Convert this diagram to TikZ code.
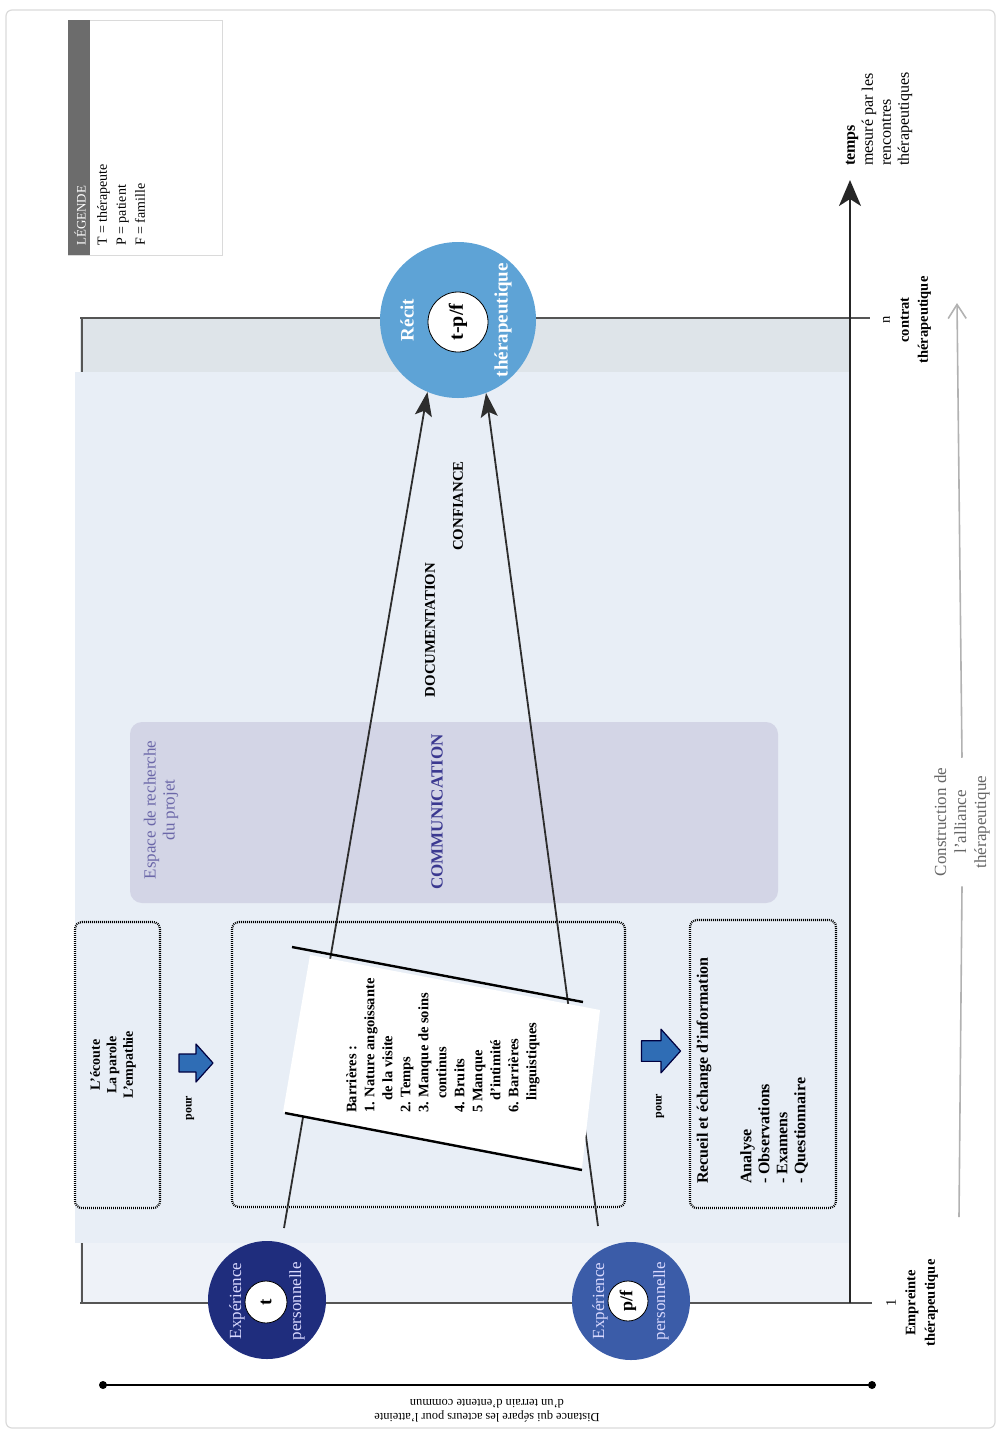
\documentclass[tikz,border=0pt]{standalone}
\usepackage{fontspec}
\setmainfont{Liberation Serif}
\usetikzlibrary{arrows.meta}

\definecolor{mainbg}{HTML}{E8EEF6}
\definecolor{bandtop}{HTML}{DEE4E9}
\definecolor{bandbot}{HTML}{EEF2F8}
\definecolor{purplebox}{HTML}{D3D5E6}
\definecolor{purpletxt}{HTML}{3B3990}
\definecolor{purplesoft}{HTML}{6B67A8}
\definecolor{recitblue}{HTML}{5EA3D6}
\definecolor{navy}{HTML}{1F2D7D}
\definecolor{midblue}{HTML}{3B5CA8}
\definecolor{arrowblue}{HTML}{2F6DB5}
\definecolor{axisgray}{HTML}{555555}
\definecolor{framegray}{HTML}{DADADA}

\tikzset{
  txt/.style={rotate=90, inner sep=0pt, align=center,
    font=\fontsize{14.5}{18}\selectfont\bfseries},
  txtreg/.style={rotate=90, inner sep=0pt, align=center,
    font=\fontsize{14.5}{18}\selectfont},
  dotbox/.style={draw=black, line width=2.2pt, dash pattern=on 0.9pt off 1.1pt,
    rounded corners=7pt},
  linkarrow/.style={draw=gray!35!black, line width=1.8pt,
    -{Stealth[length=24pt, width=17pt, inset=5pt]}},
  bigcircle/.style={circle, inner sep=0pt, minimum size=#1},
  coretag/.style={circle, draw=black, line width=0.8pt, fill=white, inner sep=0pt,
    minimum size=#1},
  blockarrow/.pic={
    \filldraw[fill=arrowblue, draw=black!75!blue, line width=1.2pt, line join=round]
      (-17,-9) -- (0,-9) -- (0,-19) -- (17,0) -- (0,19) -- (0,9) -- (-17,9) -- cycle;
  }
}

\begin{document}
\begin{tikzpicture}[x=1pt,y=-1pt]
\useasboundingbox (0,0) rectangle (1000,1433);

% outer frame
\draw[framegray, line width=1.2pt, rounded corners=6pt] (6,10) rectangle (995,1428);

% legend
\draw[framegray, line width=0.8pt] (68,20) rectangle (222,255);
\fill[gray!85!black] (68,20) rectangle (90,255);
\node[rotate=90, anchor=west, inner sep=0pt, text=white,
      font=\fontsize{13}{15}\selectfont] (legtitle) at (80,246) {LÉGENDE};
\node[rotate=90, anchor=west, inner sep=0pt, align=left,
      font=\fontsize{14}{19}\selectfont] (legtext) at (121,246)
      {T = thérapeute\\P = patient\\F = famille};

% background bands of the time space
\fill[bandtop] (80,318) rectangle (850,372);
\fill[mainbg] (75,372) rectangle (850,1243);
\fill[bandbot] (80,1243) rectangle (850,1303);
\draw[axisgray, line width=1.2pt] (82,318) -- (82,372);
\draw[axisgray, line width=1.2pt] (82,1243) -- (82,1303);

% milestones n and 1
\coordinate (nL) at (80,318);
\coordinate (nR) at (870,318);
\coordinate (oneL) at (80,1303);
\coordinate (oneR) at (872,1303);
\draw[axisgray, line width=1.4pt] (nL) -- (nR);
\draw[axisgray, line width=1.4pt] (oneL) -- (oneR);
\node[align=center, rotate=90, inner sep=0pt,
      font=\fontsize{14.5}{19}\selectfont] (nlabel) at (907,320)
      {n\\\textbf{contrat}\\\textbf{thérapeutique}};
\node[align=center, rotate=90, inner sep=0pt,
      font=\fontsize{14.5}{19.5}\selectfont] (onelabel) at (912,1303)
      {1\\\textbf{Empreinte}\\\textbf{thérapeutique}};

% time axis
\coordinate (axbot) at (850,1303);
\coordinate (axtop) at (850,180);
\draw[black!85, line width=2pt, -{Stealth[length=26pt, width=22pt, inset=7pt]}]
  (axbot) -- (axtop);
\node[rotate=90, anchor=west, inner sep=0pt, align=left,
      font=\fontsize{16}{18}\selectfont] (timelabel) at (879,166)
      {\textbf{temps}\\mesuré par les\\rencontres\\thérapeutiques};

% construction of the alliance
\node[txtreg, text=gray!80!black, inner xsep=10pt, font=\fontsize{17}{20}\selectfont]
  (constr) at (962,822) {Construction de\\l'alliance\\thérapeutique};
\coordinate (cbot) at (959,1217);
\coordinate (ctop) at (957,303);
\draw[gray!60, line width=1.6pt] (cbot) -- (constr.west);
\draw[gray!60, line width=1.6pt, -{Straight Barb[length=14pt, width=18pt]}]
  (constr.east) -- (ctop);

% research space of the project
\fill[purplebox, rounded corners=12pt] (130,722) rectangle (778,903);
\node[rotate=90, inner sep=0pt, align=center, text=purplesoft,
      font=\fontsize{17}{19}\selectfont] (espace) at (161,810)
      {Espace de recherche\\du projet};
\node[rotate=90, inner sep=0pt, text=purpletxt,
      font=\fontsize{17}{18}\selectfont\bfseries] (comm) at (437,812) {COMMUNICATION};

% keywords
\node[txt, font=\fontsize{14.8}{18}\selectfont\bfseries] (docu) at (430,630) {DOCUMENTATION};
\node[txt, font=\fontsize{14.8}{18}\selectfont\bfseries] (conf) at (458,506) {CONFIANCE};

% dotted boxes
\draw[dotbox] (75,922) rectangle (160,1208);
\draw[dotbox] (232,922) rectangle (625,1207);
\draw[dotbox] (690,920) rectangle (836,1208);

\node[txt, font=\fontsize{14}{16.5}\selectfont\bfseries] (ecoute) at (113,1065)
  {L'écoute\\La parole\\L'empathie};
\node[txt, anchor=west, font=\fontsize{16}{18}\selectfont\bfseries] (recueil) at (704,1184)
  {Recueil et échange d'information};
\node[txt, anchor=west, align=left, font=\fontsize{16}{18}\selectfont\bfseries] (analyse)
  at (774,1184) {Analyse\\- Observations\\- Examens\\- Questionnaire};

% "pour" arrows
\pic at (196,1063) {blockarrow};
\pic[scale=1.15] at (661,1051) {blockarrow};
\node[txt, font=\fontsize{12}{14}\selectfont\bfseries] (pour1) at (190,1108) {pour};
\node[txt, font=\fontsize{12}{14}\selectfont\bfseries] (pour2) at (660,1106) {pour};

% therapeutic narrative
\node[bigcircle=156pt, fill=recitblue] (recit) at (458,320) {};
\node[coretag=60pt] (core) at (458,322) {};
\node[rotate=90, inner sep=0pt, font=\fontsize{20}{22}\selectfont\bfseries] (coretxt)
  at (core) {t-p/f};
\node[txt, text=white, font=\fontsize{19}{20}\selectfont\bfseries] (recitA) at (407,320) {Récit};
\node[txt, text=white, font=\fontsize{19}{20}\selectfont\bfseries] (recitB) at (503,320) {thérapeutique};

% links from personal experiences to the narrative
\coordinate (tstart) at (284,1228);
\coordinate (pstart) at (598,1226);
\draw[linkarrow] (tstart) -- (recit.247);
\draw[linkarrow] (pstart) -- (recit.291);

% barriers card
\fill[white] (310,955) -- (600,1010) -- (582,1168) -- (283,1112) -- cycle;
\coordinate (cardTL) at (292,947);
\coordinate (cardTR) at (583,1002);
\coordinate (cardBL) at (285,1113);
\coordinate (cardBR) at (582,1170);
\draw[black, line width=2.4pt] (cardTL) -- (cardTR);
\draw[black, line width=2.4pt] (cardBL) -- (cardBR);
\node[txt, anchor=west, align=left] (barr) at (443,1113)
  {Barrières :\\
   1. Nature angoissante\\
   \hspace*{12pt}de la visite\\
   2. Temps\\
   3. Manque de soins\\
   \hspace*{14pt}continus\\
   4. Bruits\\
   5 Manque\\
   \hspace*{12pt}d'intimité\\
   6. Barrières\\
   \hspace*{12pt}linguistiques};

% personal experiences
\node[bigcircle=118pt, fill=navy] (expT) at (267,1300) {};
\node[coretag=42pt] (coreT) at (266,1302) {};
\node[rotate=90, inner sep=0pt, font=\fontsize{19}{20}\selectfont\bfseries] at (coreT) {t};
\node[txtreg, text=white!85!blue, font=\fontsize{17}{18}\selectfont] (expTa) at (237,1301) {Expérience};
\node[txtreg, text=white!85!blue, font=\fontsize{17}{18}\selectfont] (expTb) at (297,1301) {personnelle};

\node[bigcircle=118pt, fill=midblue] (expP) at (631,1301) {};
\node[coretag=40pt] (coreP) at (628,1301) {};
\node[rotate=90, inner sep=0pt, font=\fontsize{18}{20}\selectfont\bfseries] at (coreP) {p/f};
\node[txtreg, text=white!85!blue, font=\fontsize{17}{18}\selectfont] (expPa) at (600,1301) {Expérience};
\node[txtreg, text=white!85!blue, font=\fontsize{17}{18}\selectfont] (expPb) at (661,1301) {personnelle};

% distance between the actors
\coordinate (dL) at (103,1385);
\coordinate (dR) at (872,1385);
\draw[black, line width=1.4pt] (dL) -- (dR);
\fill[black] (dL) circle (4);
\fill[black] (dR) circle (4);
\node[rotate=180, inner sep=0pt, align=center,
      font=\fontsize{12.4}{14}\selectfont] (distance) at (487,1411)
  {Distance qui sépare les acteurs pour l'atteinte\\d'un terrain d'entente commun};

\end{tikzpicture}
\end{document}
